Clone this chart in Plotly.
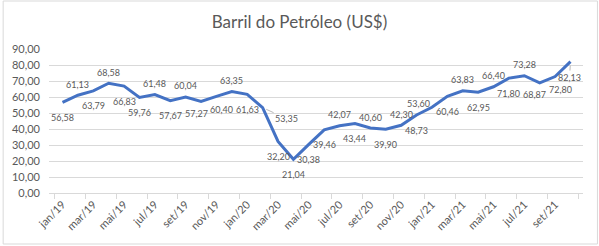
import plotly.graph_objects as go

months = ["jan", "fev", "mar", "abr", "mai", "jun", "jul", "ago", "set", "out", "nov", "dez"]
categories = [f"{m}/{y}" for y in ["19", "20", "21"] for m in months][:34]
values = [56.58, 61.13, 63.79, 68.58, 66.83, 59.76, 61.48, 57.67, 60.04, 57.27, 60.40, 63.35,
          61.63, 53.35, 32.20, 21.04, 30.38, 39.46, 42.07, 43.44, 40.60, 39.90, 42.30, 48.73,
          53.60, 60.46, 63.83, 62.95, 66.40, 71.80, 73.28, 68.87, 72.80, 82.13]
# label placement: a = above, b = below, l = left, r = leader right, d = leader below,
# bl / br = below nudged left / right
label_pos = ["b", "a", "b", "a", "b", "b", "a", "b", "a", "bl", "br", "a",
             "b", "r", "b", "b", "b", "b", "a", "b", "a", "b", "a", "b",
             "l", "b", "a", "b", "a", "b", "a", "bl", "br", "d"]

OFFSETS = {"a": (0, 11), "b": (0, -15), "l": (-13, 4), "bl": (-5, -12), "br": (5, -13)}
LEADERS = {"r": (24, 11), "d": (-1, 16)}

def fmt(v):
    return f"{v:.2f}".replace(".", ",")

GRAY = "#595959"
FONT = "Lato"

fig = go.Figure()
fig.add_trace(go.Scatter(
    x=categories, y=values, mode="lines",
    line=dict(color="#4472C4", width=3),
    hoverinfo="skip",
))

annotations = []
for c, v, p in zip(categories, values, label_pos):
    if p in OFFSETS:
        dx, dy = OFFSETS[p]
        annotations.append(dict(
            x=c, y=v, xref="x", yref="y", text=fmt(v), showarrow=False,
            xshift=dx, yshift=dy, font=dict(family=FONT, size=9, color=GRAY),
        ))
    else:
        ax, ay = LEADERS[p]
        annotations.append(dict(
            x=c, y=v, xref="x", yref="y", text=fmt(v), showarrow=True,
            arrowhead=0, arrowwidth=0.8, arrowcolor="#A6A6A6",
            ax=ax, ay=ay, standoff=4,
            font=dict(family=FONT, size=9, color=GRAY),
        ))

fig.update_layout(
    width=599, height=246,
    margin=dict(l=47, r=16, t=49, b=53),
    paper_bgcolor="white", plot_bgcolor="white",
    separators=",.",
    showlegend=False,
    title=dict(text="Barril do Petróleo (US$)", x=0.5, xanchor="center",
               y=1 - 22 / 246, yanchor="middle",
               font=dict(family=FONT, size=17, color=GRAY)),
    annotations=annotations,
    shapes=[dict(type="rect", xref="paper", yref="paper",
                 x0=(1 - 47) / 536, x1=(597.5 - 47) / 536,
                 y0=(193 - 244) / 144, y1=(193 - 1) / 144,
                 line=dict(color="#D9D9D9", width=1), layer="below")],
)
fig.update_xaxes(
    type="category", tickmode="linear", tick0=0, dtick=2, tickangle=-45,
    tickson="boundaries", ticks="outside", ticklen=5, tickcolor="#D9D9D9",
    showgrid=False, showline=True, linecolor="#D9D9D9", linewidth=1,
    tickfont=dict(family=FONT, size=11, color=GRAY),
)
fig.update_yaxes(
    range=[0, 90], dtick=10, tickformat=".2f",
    showgrid=True, gridcolor="#D9D9D9", gridwidth=1, zeroline=False,
    showline=False, ticklabelstandoff=8,
    tickfont=dict(family=FONT, size=11, color=GRAY),
)

fig.write_html("out.html")
